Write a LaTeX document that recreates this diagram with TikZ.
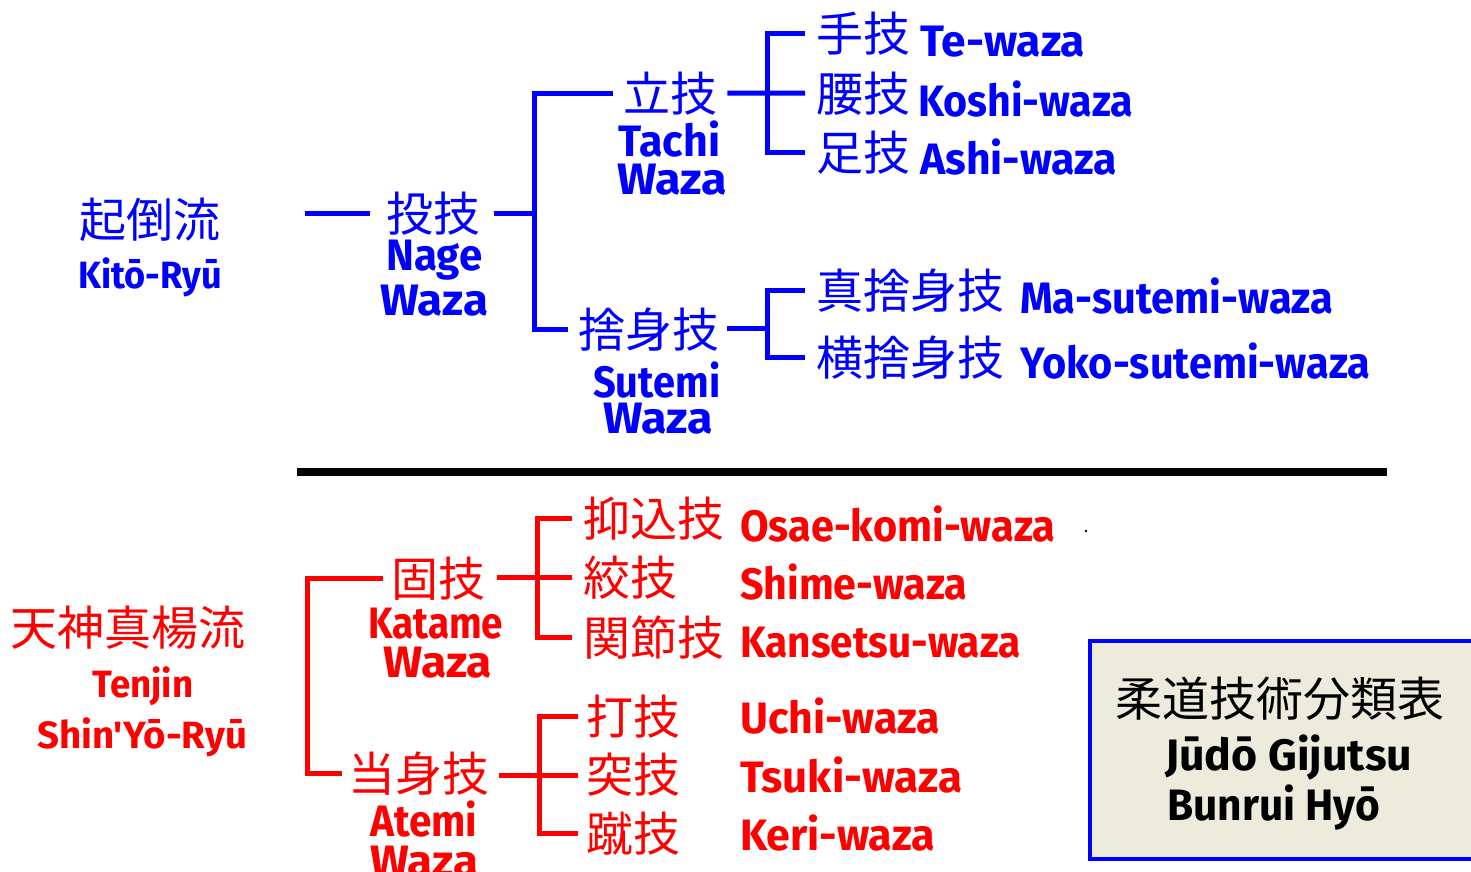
\documentclass[tikz,border=0pt]{standalone}
\usepackage{fontspec}
\usepackage{graphicx}
\newfontfamily\latf{Fira Sans}
\newfontfamily\cjk{Noto Sans CJK JP}
\definecolor{bl}{RGB}{0,0,255}
\definecolor{rd}{RGB}{255,0,0}
\definecolor{boxfill}{RGB}{236,235,220}
\newcommand\fw[2]{\resizebox{#1pt}{\height}{#2}}
\tikzset{
  kanji/.style={inner sep=0pt, anchor=base west, font=\cjk\fontsize{47}{47}\selectfont},
  roma/.style={inner sep=0pt, anchor=base west, font=\latf\bfseries\fontsize{44}{44}\selectfont},
  romas/.style={inner sep=0pt, anchor=base west, font=\latf\bfseries\fontsize{38}{38}\selectfont},
  bline/.style={bl, line width=5pt},
  rline/.style={rd, line width=5pt},
}
\begin{document}
\begin{tikzpicture}[x=1pt,y=-1pt]
\useasboundingbox (0,0) rectangle (1471,871);
% ---------- Kito-ryu (blue) ----------
\node[kanji, text=bl] (kito) at (79,237) {起倒流};
\node[romas, text=bl] (kitoR) at (78,288) {\fw{144}{Kitō-Ryū}};
\node[kanji, text=bl] (nageK) at (386,231) {投技};
\node[roma, text=bl] (nageA) at (386,270) {\fw{96}{Nage}};
\node[roma, text=bl] (nageB) at (380,315) {\fw{108}{Waza}};
\node[kanji, text=bl] (tachiK) at (623,111) {立技};
\node[roma, text=bl] (tachiA) at (618,156) {\fw{102}{Tachi}};
\node[roma, text=bl] (tachiB) at (617,194) {\fw{110}{Waza}};
\node[kanji, text=bl] (suteK) at (578,347) {捨身技};
\node[roma, text=bl] (suteA) at (593,397) {\fw{127}{Sutemi}};
\node[roma, text=bl] (suteB) at (603,433) {\fw{110}{Waza}};
\node[kanji, text=bl] (teK) at (816,51) {手技};
\node[roma, text=bl] (teR) at (920,56) {\fw{165}{Te-waza}};
\node[kanji, text=bl] (koshiK) at (816,111) {腰技};
\node[roma, text=bl] (koshiR) at (918,116) {\fw{215}{Koshi-waza}};
\node[kanji, text=bl] (ashiK) at (816,170) {足技};
\node[roma, text=bl] (ashiR) at (920,174) {\fw{197}{Ashi-waza}};
\node[kanji, text=bl] (maK) at (816,308) {真捨身技};
\node[roma, text=bl] (maR) at (1020,313) {\fw{313}{Ma-sutemi-waza}};
\node[kanji, text=bl] (yokoK) at (816,375) {横捨身技};
\node[roma, text=bl] (yokoR) at (1020,378) {\fw{350}{Yoko-sutemi-waza}};
% blue connectors
\coordinate (kitoStem) at (305,213);
\coordinate (j1) at (534,213);
\coordinate (j2) at (767,93);
\coordinate (j3) at (767,328);
\draw[bline] (kitoStem) -- ([xshift=-16pt]nageK.west |- kitoStem);
\draw[bline] ([xshift=14pt]nageK.east |- j1) -- (j1);
\draw[bline] (j1) |- ([xshift=-10pt]tachiK.west);
\draw[bline] (j1) |- ([xshift=-10pt]suteK.west);
\draw[bline] ([xshift=10pt]tachiK.east) -- (j2);
\draw[bline] (j2) |- ([xshift=-11pt]teK.west);
\draw[bline] (j2) |- ([xshift=-11pt]ashiK.west);
\draw[bline] (j2) -- ([xshift=-11pt]koshiK.west);
\draw[bline] ([xshift=8pt]suteK.east |- j3) -- (j3);
\draw[bline] (j3) |- ([xshift=-11pt]maK.west);
\draw[bline] (j3) |- ([xshift=-11pt]yokoK.west);
% ---------- separator ----------
\coordinate (sepL) at (297,472);
\coordinate (sepR) at (1387,472);
\draw[line width=8pt, black] (sepL) -- (sepR);
% ---------- Tenjin Shin'yo-ryu (red) ----------
\node[kanji, text=rd] (tenjin) at (10,645) {天神真楊流};
\node[romas, text=rd] (tenA) at (92,697) {\fw{101}{Tenjin}};
\node[romas, text=rd] (tenB) at (37,748) {\fw{210}{Shin'Yō-Ryū}};
\node[kanji, text=rd] (katK) at (391,596) {固技};
\node[roma, text=rd] (katA) at (368,638) {\fw{135}{Katame}};
\node[roma, text=rd] (katB) at (383,677) {\fw{109}{Waza}};
\node[kanji, text=rd] (atK) at (348,791) {当身技};
\node[roma, text=rd] (atA) at (370,836) {\fw{107}{Atemi}};
\node[roma, text=rd] (atB) at (370,876) {\fw{108}{Waza}};
\node[kanji, text=rd] (osK) at (583,536) {抑込技};
\node[roma, text=rd] (osR) at (740,541) {\fw{315}{Osae-komi-waza}};
\node[kanji, text=rd] (shK) at (583,595) {絞技};
\node[roma, text=rd] (shR) at (740,599) {\fw{227}{Shime-waza}};
\node[kanji, text=rd] (kaK) at (583,655) {関節技};
\node[roma, text=rd] (kaR) at (740,657) {\fw{280}{Kansetsu-waza}};
\node[kanji, text=rd] (uK) at (586,734) {打技};
\node[roma, text=rd] (uR) at (740,733) {\fw{200}{Uchi-waza}};
\node[kanji, text=rd] (tsK) at (586,792) {突技};
\node[roma, text=rd] (tsR) at (740,792) {\fw{222}{Tsuki-waza}};
\node[kanji, text=rd] (keK) at (586,851) {蹴技};
\node[roma, text=rd] (keR) at (740,850) {\fw{195}{Keri-waza}};
% red connectors
\coordinate (r0) at (307,680);
\coordinate (r1) at (537,577);
\coordinate (r2) at (539,775);
\draw[rline] ([xshift=-8pt]katK.west) -| (r0) |- ([xshift=-6pt]atK.west);
\draw[rline] ([xshift=12pt]katK.east |- r1) -- (r1);
\draw[rline] (r1) |- ([xshift=-11pt]osK.west);
\draw[rline] (r1) |- ([xshift=-11pt]kaK.west);
\draw[rline] (r1) -- ([xshift=-11pt]shK.west |- r1);
\draw[rline] ([xshift=10pt]atK.east |- r2) -- (r2);
\draw[rline] (r2) |- ([xshift=-8pt]uK.west);
\draw[rline] (r2) |- ([xshift=-8pt]keK.west);
\draw[rline] (r2) -- ([xshift=-8pt]tsK.west |- r2);
% stray dot
\fill[black] (1086,531) circle (1.3pt);
% ---------- title box ----------
\node[draw=bl, line width=4pt, fill=boxfill, inner sep=0pt, anchor=north west,
      minimum width=400pt, minimum height=218pt] (box) at (1088,639) {};
\node[kanji, text=black] (titleK) at (1115,716) {柔道技術分類表};
\node[roma, text=black] (titleA) at (1165,770) {\fw{247}{Jūdō Gijutsu}};
\node[roma, text=black] (titleB) at (1167,820) {\fw{213}{Bunrui Hyō}};
\end{tikzpicture}
\end{document}
